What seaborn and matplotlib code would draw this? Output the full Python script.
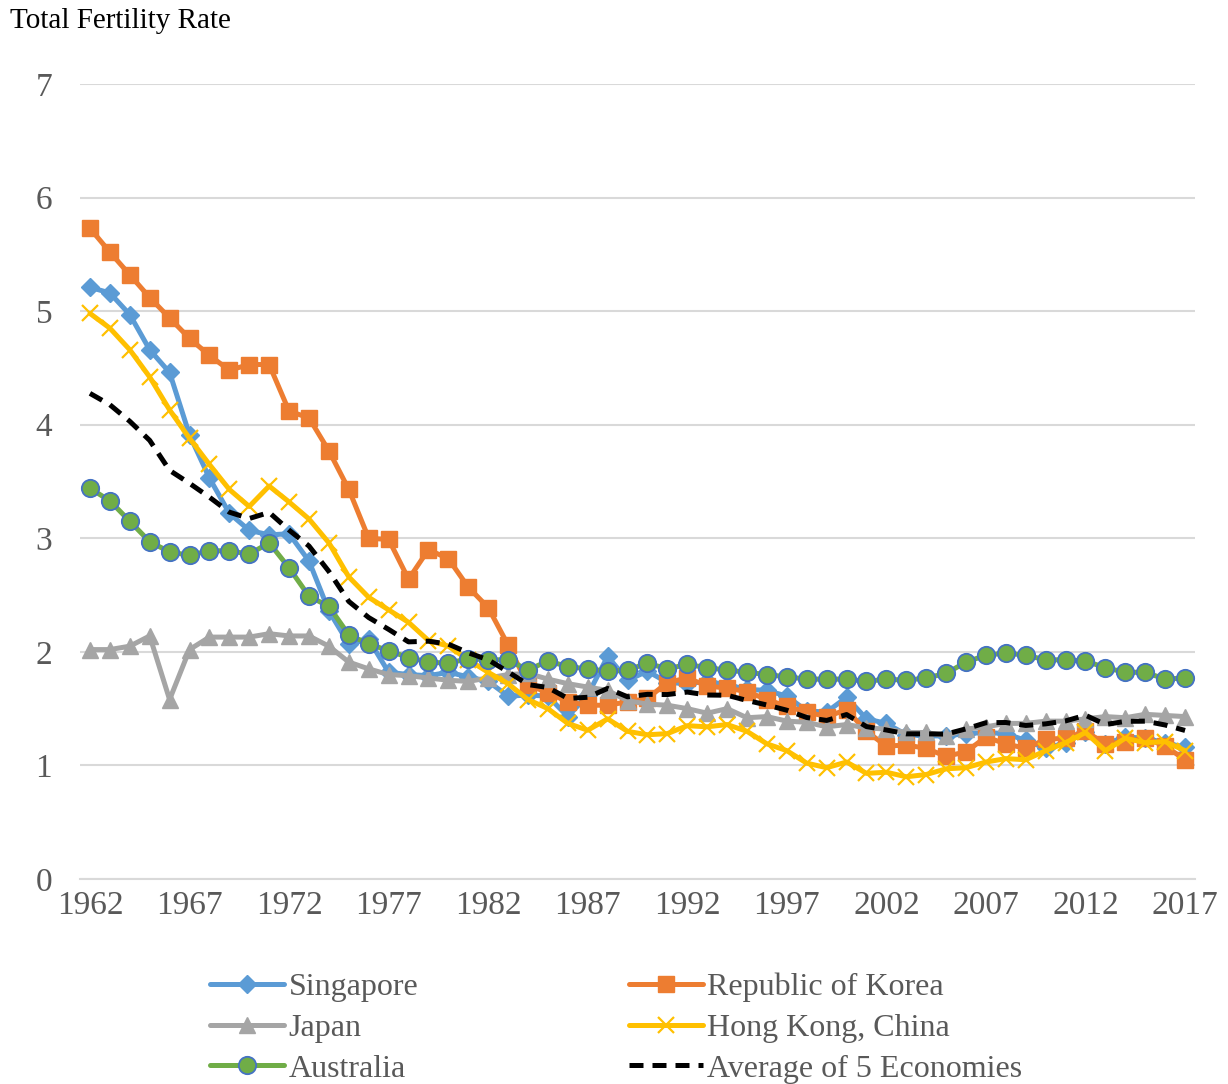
import matplotlib
matplotlib.use("Agg")
import matplotlib.pyplot as plt
from matplotlib.lines import Line2D
import seaborn as sns
import numpy as np
import pandas as pd

years = list(range(1962, 2018))

singapore = [5.21, 5.16, 4.97, 4.66, 4.46, 3.91, 3.53, 3.22, 3.07, 3.03,
             3.04, 2.80, 2.36, 2.07, 2.11, 1.82, 1.80, 1.79, 1.82, 1.78,
             1.74, 1.61, 1.62, 1.61, 1.43, 1.62, 1.96, 1.75, 1.83, 1.73,
             1.72, 1.74, 1.71, 1.67, 1.66, 1.61, 1.48, 1.47, 1.60, 1.41,
             1.37, 1.27, 1.26, 1.26, 1.28, 1.29, 1.28, 1.22, 1.15, 1.20,
             1.29, 1.19, 1.25, 1.24, 1.20, 1.16]
korea = [5.73, 5.52, 5.32, 5.12, 4.94, 4.76, 4.61, 4.48, 4.53, 4.53,
         4.12, 4.06, 3.77, 3.43, 3.00, 2.99, 2.64, 2.90, 2.82, 2.57,
         2.39, 2.06, 1.71, 1.64, 1.56, 1.53, 1.53, 1.56, 1.59, 1.73,
         1.77, 1.70, 1.68, 1.65, 1.58, 1.52, 1.47, 1.43, 1.49, 1.30,
         1.17, 1.18, 1.15, 1.08, 1.12, 1.25, 1.19, 1.15, 1.23, 1.24,
         1.30, 1.19, 1.21, 1.24, 1.17, 1.05]
japan = [2.02, 2.02, 2.05, 2.14, 1.58, 2.02, 2.13, 2.13, 2.13, 2.16,
         2.14, 2.14, 2.05, 1.91, 1.85, 1.80, 1.79, 1.77, 1.75, 1.74,
         1.77, 1.80, 1.81, 1.76, 1.72, 1.69, 1.66, 1.57, 1.54, 1.53,
         1.50, 1.46, 1.50, 1.42, 1.43, 1.39, 1.38, 1.34, 1.36, 1.33,
         1.32, 1.29, 1.29, 1.26, 1.32, 1.34, 1.37, 1.37, 1.39, 1.39,
         1.41, 1.43, 1.42, 1.45, 1.44, 1.43]
hongkong = [4.98, 4.85, 4.66, 4.42, 4.13, 3.88, 3.65, 3.43, 3.28, 3.46,
            3.32, 3.17, 2.96, 2.66, 2.48, 2.37, 2.26, 2.10, 2.05, 1.93,
            1.82, 1.72, 1.58, 1.50, 1.37, 1.31, 1.41, 1.30, 1.27, 1.28,
            1.35, 1.34, 1.36, 1.30, 1.19, 1.13, 1.02, 0.98, 1.03, 0.93,
            0.94, 0.90, 0.92, 0.97, 0.98, 1.03, 1.06, 1.05, 1.13, 1.20,
            1.29, 1.13, 1.24, 1.20, 1.21, 1.13]
australia = [3.44, 3.33, 3.15, 2.97, 2.88, 2.85, 2.89, 2.89, 2.86, 2.96,
             2.74, 2.49, 2.40, 2.15, 2.07, 2.01, 1.95, 1.91, 1.90, 1.94,
             1.93, 1.93, 1.84, 1.92, 1.87, 1.85, 1.83, 1.84, 1.90, 1.85,
             1.89, 1.86, 1.84, 1.82, 1.80, 1.78, 1.76, 1.76, 1.76, 1.74,
             1.76, 1.75, 1.77, 1.81, 1.91, 1.97, 1.99, 1.97, 1.93, 1.93,
             1.92, 1.86, 1.82, 1.82, 1.76, 1.77]

labels = ["Singapore", "Republic of Korea", "Japan", "Hong Kong, China",
          "Australia", "Average of 5 Economies"]
xticks = list(range(1962, 2018, 5))
yticks = list(range(0, 8))

df = pd.DataFrame({"year": years, labels[0]: singapore, labels[1]: korea,
                   labels[2]: japan, labels[3]: hongkong, labels[4]: australia})
df[labels[5]] = df[labels[:5]].mean(axis=1)

sns.set_theme(style="white")
plt.rcParams["font.family"] = ["Liberation Serif", "DejaVu Serif"]

fig = plt.figure(figsize=(12.28, 10.84), dpi=100)
ax = fig.add_axes([80 / 1228, 1 - 879 / 1084, (1195 - 80) / 1228, (879 - 84) / 1084])

LW = 3.6
styles = {
    labels[0]: dict(color="#5B9BD5", marker="D", markersize=9.5, mfc="#5B9BD5", mec="#5B9BD5", mew=1, linestyle="-"),
    labels[1]: dict(color="#ED7D31", marker="s", markersize=12, mfc="#ED7D31", mec="#ED7D31", mew=1, linestyle="-"),
    labels[2]: dict(color="#A5A5A5", marker="^", markersize=11.5, mfc="#A5A5A5", mec="#A5A5A5", mew=1, linestyle="-"),
    labels[3]: dict(color="#FFC000", marker="x", markersize=11, mfc="#FFC000", mec="#FFC000", mew=1.6, linestyle="-"),
    labels[4]: dict(color="#70AD47", marker="o", markersize=12.5, mfc="#70AD47", mec="#4472C4", mew=1.3, linestyle="-"),
    labels[5]: dict(color="black", marker=None, linestyle=(0, (2.8, 1.8))),
}

for lab in labels:
    st = styles[lab]
    sns.lineplot(data=df, x="year", y=lab, ax=ax, linewidth=LW, zorder=3, **st)

ax.set_xlim(1961.5, 2017.5)
ax.set_ylim(0, 7)
ax.set_xticks(xticks)
ax.set_yticks(yticks)
ax.set_xlabel("")
ax.set_ylabel("")
ax.grid(axis="y", color="#D9D9D9", linewidth=1.5, zorder=0)
ax.grid(axis="x", visible=False)
for s in ["top", "right", "left"]:
    ax.spines[s].set_visible(False)
ax.spines["bottom"].set_color("#D9D9D9")
ax.spines["bottom"].set_linewidth(1.5)
ax.tick_params(axis="both", length=0, labelsize=24, labelcolor="#595959")
ax.tick_params(axis="y", pad=20)
ax.tick_params(axis="x", pad=8)

fig.text(10 / 1228, 1 - 21 / 1084, "Total Fertility Rate", fontsize=21,
         color="black", ha="left", va="center")

order = [0, 2, 4, 1, 3, 5]
handles = []
for i in order:
    st = dict(styles[labels[i]])
    handles.append(Line2D([], [], linewidth=LW, **st))
leg = fig.legend(handles, [labels[i] for i in order], ncol=2,
                 loc="center", bbox_to_anchor=(0.502, 1 - 1028 / 1084),
                 frameon=False, fontsize=23, handlelength=2.3,
                 columnspacing=6.6, labelspacing=0.36, handletextpad=0.15)
for t in leg.get_texts():
    t.set_color("#595959")

fig.savefig("out.png", dpi=100)
